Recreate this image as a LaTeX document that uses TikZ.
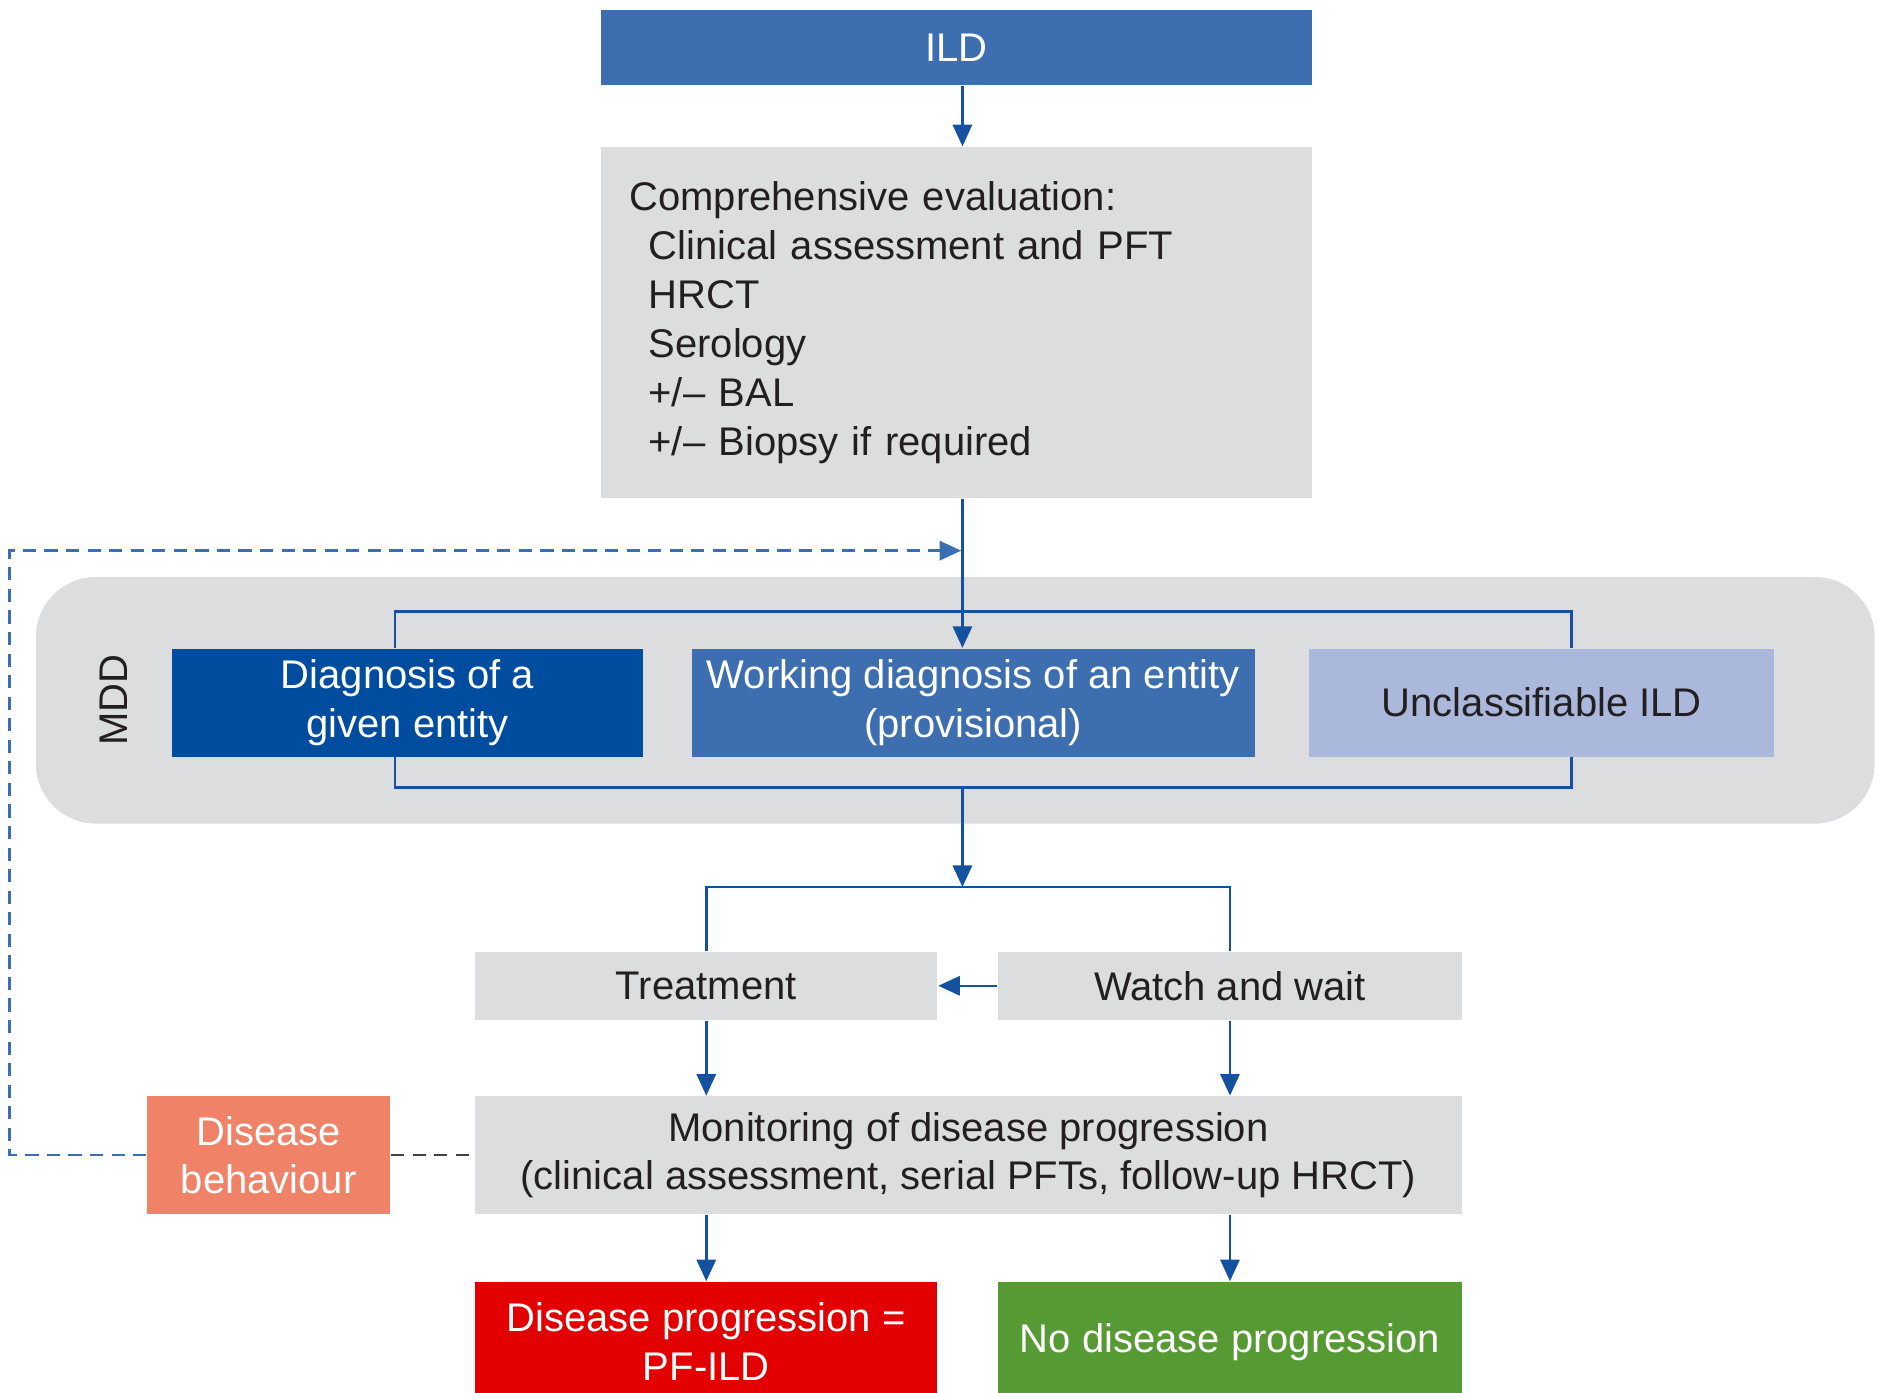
\documentclass[tikz,border=0pt]{standalone}
\usepackage{fontspec}
\setmainfont{Liberation Sans}
\usetikzlibrary{arrows.meta}

\definecolor{ildblue}{RGB}{61,111,176}
\definecolor{darkblue}{RGB}{0,76,158}
\definecolor{paleblue}{RGB}{170,184,220}
\definecolor{boxgrey}{RGB}{220,221,223}
\definecolor{salmon}{RGB}{240,130,104}
\definecolor{progred}{RGB}{227,0,0}
\definecolor{okgreen}{RGB}{85,154,51}
\definecolor{lineblue}{RGB}{20,82,160}
\definecolor{fbblue}{RGB}{58,110,181}
\definecolor{textdark}{RGB}{35,31,32}

\begin{document}
\begin{tikzpicture}[x=0.01cm, y=-0.01cm,
  font=\fontsize{9.5}{11.6}\selectfont, >={Triangle[length=1.8mm,width=1.6mm]},
  box/.style={inner sep=0pt, align=center},
  grey/.style={box, fill=boxgrey, text=textdark},
  mid/.style={box, fill=ildblue, text=white},
  dark/.style={box, fill=darkblue, text=white},
  pale/.style={box, fill=paleblue, text=textdark},
  warn/.style={box, fill=salmon, text=white},
  bad/.style={box, fill=progred, text=white},
  good/.style={box, fill=okgreen, text=white},
  link/.style={draw=lineblue, line width=0.6pt},
  arr/.style={link, ->},
  fb/.style={->, draw=fbblue, line width=0.6pt, dash pattern=on 1.1mm off 0.7mm},
  tie/.style={draw=textdark!85, line width=0.6pt, dash pattern=on 1.1mm off 0.7mm}]
  \useasboundingbox (0,0) rectangle (1568,1163);
  \path[fill=boxgrey, rounded corners=0.5cm] (30,482) rectangle (1566,688);
  \node[mid, minimum width=5.94cm, minimum height=0.63cm] (ild) at (799,39.5) {ILD};
  \node[grey, minimum width=5.94cm, minimum height=2.93cm, text width=5.46cm, align=left] (eval) at (799,269.5)
    {Comprehensive evaluation:\\ \hspace*{1.6mm}Clinical assessment and PFT\\ \hspace*{1.6mm}HRCT\\ \hspace*{1.6mm}Serology\\ \hspace*{1.6mm}+/-- BAL\\ \hspace*{1.6mm}+/-- Biopsy if required};
  \node[rotate=90, text=textdark] (mdd) at (95,585) {MDD};
  \node[dark, minimum width=3.93cm, minimum height=0.9cm] (diag) at (340.5,587) {Diagnosis of a\\given entity};
  \node[mid, minimum width=4.70cm, minimum height=0.9cm] (work) at (813,587) {Working diagnosis of an entity\\(provisional)};
  \node[pale, minimum width=3.88cm, minimum height=0.9cm] (unc) at (1288,587) {Unclassifiable ILD};
  \node[grey, minimum width=3.86cm, minimum height=0.57cm] (treat) at (590,823.5) {Treatment};
  \node[grey, minimum width=3.87cm, minimum height=0.57cm] (watch) at (1027.5,823.5) {Watch and wait};
  \node[grey, minimum width=8.24cm, minimum height=0.98cm] (mon) at (809,965) {Monitoring of disease progression\\(clinical assessment, serial PFTs, follow-up HRCT)};
  \node[warn, minimum width=2.03cm, minimum height=0.98cm] (behav) at (224.5,965) {Disease\\behaviour};
  \node[bad, minimum width=3.86cm, minimum height=1.0cm] (prog) at (590,1121) {Disease progression =\\PF-ILD};
  \node[good, minimum width=3.87cm, minimum height=1.0cm] (noprog) at (1027.5,1121) {No disease progression};
  \coordinate (spine) at (804,0);
  \coordinate (lbr) at (330,511);
  \coordinate (rbr) at (1313,511);
  \coordinate (lbl) at (330,658);
  \coordinate (rbl) at (1313,658);
  \coordinate (split) at (804,741);
  \coordinate (fbup) at (8,460);
  \coordinate (fbtip) at (803,460);
  \draw[arr] (ild.south -| spine) -- (eval.north -| spine);
  \draw[arr] (eval.south -| spine) -- (work.north -| spine);
  \draw[link] (diag.north -| lbr) -- (lbr) -- (rbr) -- (unc.north -| rbr);
  \draw[link] (diag.south -| lbl) -- (lbl) -- (rbl) -- (unc.south -| rbl);
  \draw[arr] (lbl -| spine) -- (split);
  \draw[link] (treat.north) |- (split) -| (watch.north);
  \draw[arr] (watch.west) -- (treat.east);
  \draw[arr] (treat.south) -- (mon.north -| treat.south);
  \draw[arr] (watch.south) -- (mon.north -| watch.south);
  \draw[arr] (mon.south -| prog.north) -- (prog.north);
  \draw[arr] (mon.south -| noprog.north) -- (noprog.north);
  \draw[tie] (behav.east) -- (mon.west);
  \draw[fb] (behav.west) -| (fbup) -- (fbtip);
\end{tikzpicture}
\end{document}
